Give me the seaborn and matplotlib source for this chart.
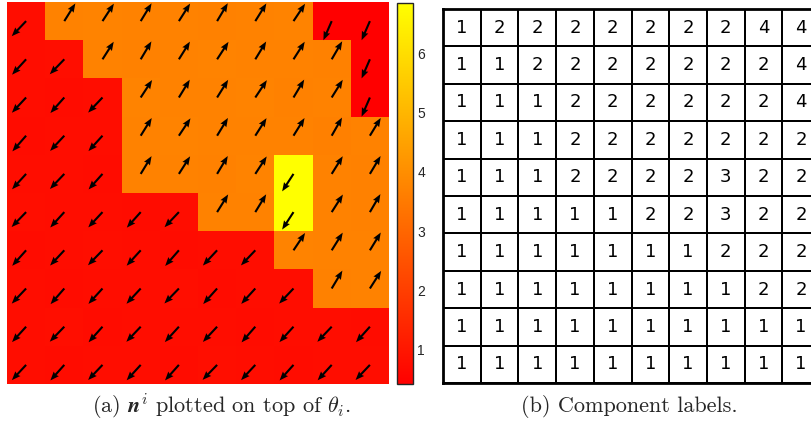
import numpy as np
import matplotlib
matplotlib.use("Agg")
import matplotlib.pyplot as plt
import seaborn as sns

# Orientation angle theta_i per cell (radians), 10 x 10 grid, row 0 at the top
theta = np.array([
    [0.76, 3.70, 3.72, 3.69, 3.71, 3.68, 3.70, 3.73, 0.41, 0.41],
    [0.74, 0.77, 3.71, 3.68, 3.70, 3.72, 3.69, 3.71, 3.67, 0.41],
    [0.75, 0.73, 0.76, 3.72, 3.69, 3.70, 3.73, 3.68, 3.70, 0.41],
    [0.72, 0.75, 0.74, 3.70, 3.73, 3.69, 3.71, 3.70, 3.66, 3.69],
    [0.74, 0.76, 0.73, 3.69, 3.71, 3.68, 3.72, 6.86, 3.70, 3.68],
    [0.77, 0.74, 0.75, 0.73, 0.76, 3.70, 3.69, 6.86, 3.71, 3.67],
    [0.73, 0.75, 0.77, 0.74, 0.72, 0.75, 0.76, 3.73, 3.70, 3.69],
    [0.76, 0.72, 0.74, 0.75, 0.77, 0.73, 0.74, 0.76, 3.68, 3.71],
    [0.74, 0.77, 0.73, 0.76, 0.74, 0.75, 0.72, 0.74, 0.76, 0.73],
    [0.75, 0.73, 0.76, 0.74, 0.73, 0.77, 0.75, 0.73, 0.74, 0.76],
])

# Connected-component label of every cell
labels = np.array([
    [1, 2, 2, 2, 2, 2, 2, 2, 4, 4],
    [1, 1, 2, 2, 2, 2, 2, 2, 2, 4],
    [1, 1, 1, 2, 2, 2, 2, 2, 2, 4],
    [1, 1, 1, 2, 2, 2, 2, 2, 2, 2],
    [1, 1, 1, 2, 2, 2, 2, 3, 2, 2],
    [1, 1, 1, 1, 1, 2, 2, 3, 2, 2],
    [1, 1, 1, 1, 1, 1, 1, 2, 2, 2],
    [1, 1, 1, 1, 1, 1, 1, 1, 2, 2],
    [1, 1, 1, 1, 1, 1, 1, 1, 1, 1],
    [1, 1, 1, 1, 1, 1, 1, 1, 1, 1],
])

cbar_ticks = [1, 2, 3, 4, 5, 6]
caption_a = r"(a) $\mathbfit{n}^i$ plotted on top of $\theta_i$."
caption_b = "(b) Component labels."

sns.set_theme(style="white")
plt.rcParams["mathtext.fontset"] = "cm"

W, H = 811, 423
fig = plt.figure(figsize=(W / 100, H / 100), dpi=100)


def box(x0, y0, x1, y1):
    return [x0 / W, 1 - y1 / H, (x1 - x0) / W, (y1 - y0) / H]


ax_map = fig.add_axes(box(7, 2, 389, 384))
ax_cb = fig.add_axes(box(397, 3, 413, 384))
ax_tab = fig.add_axes(box(443, 9, 820, 383))

# Left: theta field as a heatmap with the unit vectors n^i on top
sns.heatmap(theta, ax=ax_map, cmap="autumn", cbar=True, cbar_ax=ax_cb,
            xticklabels=False, yticklabels=False, square=False)
rows, cols = np.indices(theta.shape)
u = -np.sin(theta)
v = -np.cos(theta)
ax_map.quiver(cols + 0.5, rows + 0.5, u, v, angles="uv", pivot="tail",
              scale_units="inches", scale=4.8, units="inches", width=0.021,
              headwidth=3.3, headlength=4.2, headaxislength=3.8, color="black")
ax_map.set_xlim(0, 10)
ax_map.set_ylim(10, 0)

ax_cb.set_yticks(cbar_ticks)
ax_cb.set_yticklabels([str(t) for t in cbar_ticks])
ax_cb.tick_params(axis="y", direction="in", length=4, width=0.8, right=True,
                  left=False, labelsize=10, labelcolor="#262626",
                  color="#262626", pad=3)
for lab in ax_cb.get_yticklabels():
    lab.set_fontfamily("Liberation Sans")
cbar_obj = ax_map.collections[0].colorbar
cbar_obj.outline.set_edgecolor("#262626")
cbar_obj.outline.set_linewidth(1.0)

# Right: component labels as an annotated grid
sns.heatmap(labels, ax=ax_tab, cmap=sns.color_palette(["white"]), cbar=False,
            annot=True, fmt="d", linewidths=1.15, linecolor="black",
            annot_kws={"fontsize": 13, "color": "black",
                       "fontfamily": "DejaVu Sans"},
            xticklabels=False, yticklabels=False)
for s in ax_tab.spines.values():
    s.set_visible(True)
    s.set_color("black")
    s.set_linewidth(2.0)

fig.text(221 / W, 1 - 406 / H, caption_a, ha="center", va="center",
         fontsize=16, family="cmr10")
fig.text(629 / W, 1 - 406 / H, caption_b, ha="center", va="center",
         fontsize=16, family="cmr10")

fig.savefig("out.png", dpi=100)
